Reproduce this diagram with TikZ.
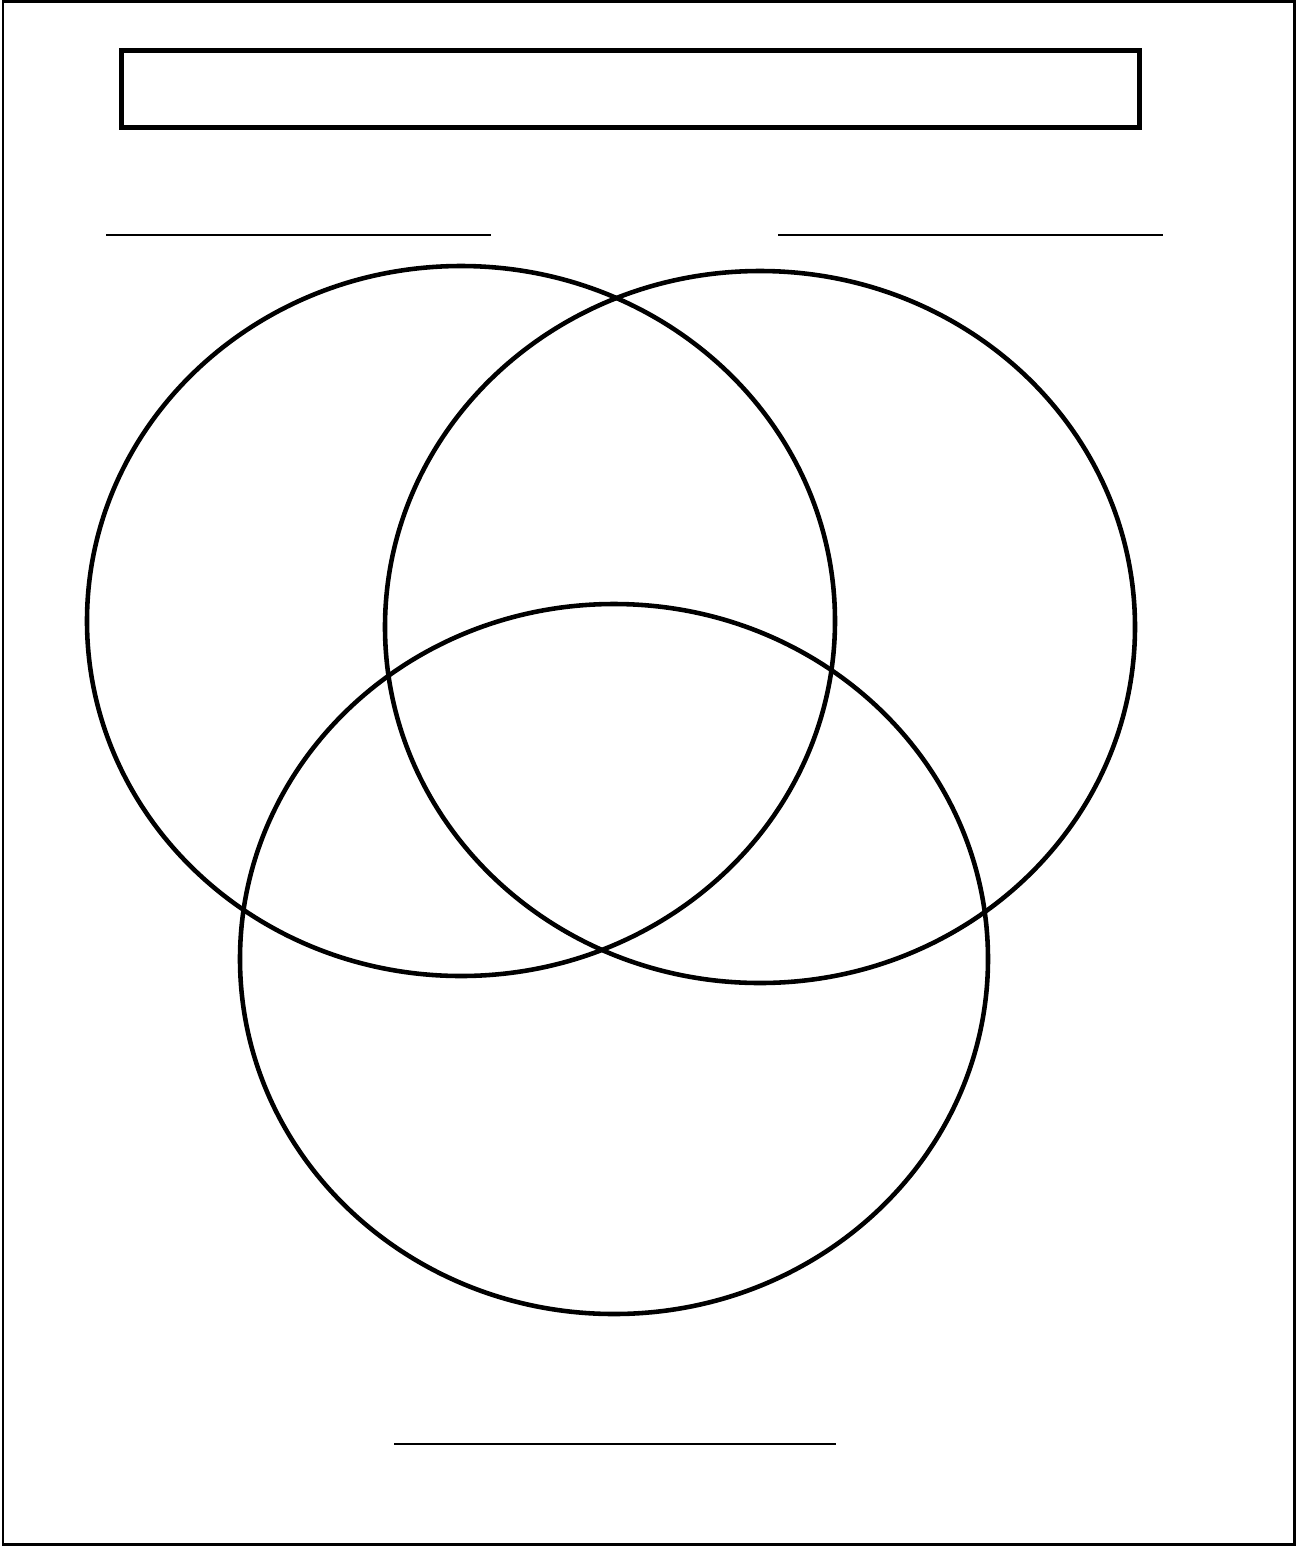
\documentclass[tikz,border=0pt]{standalone}
\usepackage{tikz}

\begin{document}
\begin{tikzpicture}[
  x=0.02cm, y=-0.02cm,
  frame/.style={draw, line width=1.2pt},
  titlebox/.style={draw, line width=2.8pt},
  rule/.style={draw, line width=1.1pt},
  set/.style={draw, line width=2.6pt}
]
\useasboundingbox (0,0) rectangle (1296,1546);
\draw[frame] (3,1.5) rectangle (1294.5,1544.5);

% title
\draw[titlebox] (121.5,50.5) rectangle (1139.5,127.5);

% set labels
\coordinate (la) at (106,235);
\coordinate (lb) at (491,235);
\coordinate (ra) at (778,235);
\coordinate (rb) at (1163,235);
\coordinate (ba) at (394,1444);
\coordinate (bb) at (836,1444);
\draw[rule] (la) -- (lb);
\draw[rule] (ra) -- (rb);
\draw[rule] (ba) -- (bb);

% the three sets
\draw[set] (461,621) ellipse [x radius=374, y radius=355];
\draw[set] (760,627) ellipse [x radius=375, y radius=356];
\draw[set] (614,959) ellipse [x radius=374, y radius=355];
\end{tikzpicture}
\end{document}
